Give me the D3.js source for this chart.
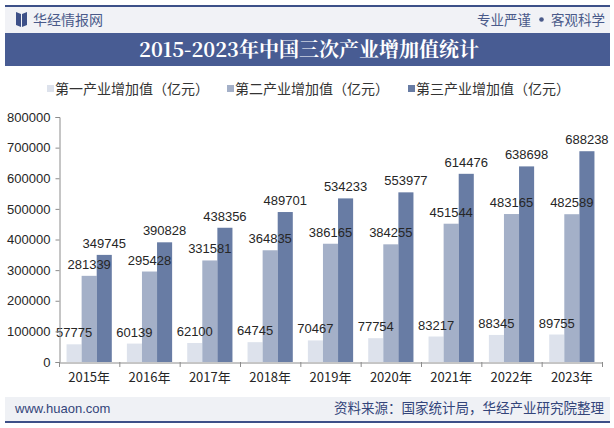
<!DOCTYPE html>
<html><head><meta charset="utf-8">
<script src="https://cdn.jsdelivr.net/npm/d3@7/dist/d3.min.js"></script>
<style>body{margin:0;background:#fff}svg{display:block}</style>
</head><body>
<svg id="c" width="614" height="428"></svg>
<script>
const years = ["2015年","2016年","2017年","2018年","2019年","2020年","2021年","2022年","2023年"];
const primary = [57775,60139,62100,64745,70467,77754,83217,88345,89755];
const secondary = [281339,295428,331581,364835,386165,384255,451544,483165,482589];
const tertiary = [349745,390828,438356,489701,534233,553977,614476,638698,688238];
const seriesNames = ["第一产业增加值（亿元）","第二产业增加值（亿元）","第三产业增加值（亿元）"];
const yTicks = [0,100000,200000,300000,400000,500000,600000,700000,800000];
const colors = ["#dde2ec","#a4b0c8","#687ca4"];

const svg = d3.select("#c");
const font = "'Liberation Sans', Arial, sans-serif";
const cjk = "'Noto Sans CJK SC', 'Liberation Sans', sans-serif";

// header
svg.append("rect").attr("x",5).attr("y",5).attr("width",605).attr("height",2).attr("fill","#3d5088");
svg.append("rect").attr("x",5).attr("y",7).attr("width",605).attr("height",26).attr("fill","#f1f2f6");
svg.append("path").attr("d","M16,12 L21,14 L21,27 L16,25 Z M22,14 L27,12 L27,25 L22,27 Z").attr("fill","#3d5088");
svg.append("text").attr("x",33).attr("y",24.5).attr("font-family",cjk).attr("font-size",14).attr("fill","#4a5a8a").text("华经情报网");
svg.append("text").attr("x",531).attr("y",24.5).attr("text-anchor","end").attr("font-family",cjk).attr("font-size",13.5).attr("fill","#4a5a8a").text("专业严谨");
svg.append("circle").attr("cx",541.5).attr("cy",19.5).attr("r",2.3).attr("fill","#4a5a8a");
svg.append("text").attr("x",605).attr("y",24.5).attr("text-anchor","end").attr("font-family",cjk).attr("font-size",13.5).attr("fill","#4a5a8a").text("客观科学");
svg.append("rect").attr("x",5).attr("y",33).attr("width",605).attr("height",33).attr("fill","#485c93");
svg.append("text").attr("x",309).attr("y",56.5).attr("text-anchor","middle").attr("font-family","'Noto Serif CJK SC','Noto Sans CJK SC',serif").attr("font-weight","bold").attr("font-size",20).attr("fill","#fff").text("2015-2023年中国三次产业增加值统计");

// legend
const legX = [47,227,408];
seriesNames.forEach((n,i)=>{
  svg.append("rect").attr("x",legX[i]).attr("y",85).attr("width",7).attr("height",7).attr("fill",colors[i]);
  svg.append("text").attr("x",legX[i]+8).attr("y",94).attr("font-family",cjk).attr("font-size",14).attr("fill","#333").text(n);
});

// plot
const x0 = d3.scaleBand().domain(years).range([59,602]).paddingInner(0.25).paddingOuter(0.125);
const x1 = d3.scaleBand().domain([0,1,2]).range([0,x0.bandwidth()]);
const y = d3.scaleLinear().domain([0,800000]).range([362,117]);

const data = [primary,secondary,tertiary];
const g = svg.append("g");
years.forEach((yr,i)=>{
  data.forEach((s,k)=>{
    const bx = x0(yr)+x1(k);
    g.append("rect").attr("x",bx).attr("y",y(s[i])).attr("width",x1.bandwidth()).attr("height",362-y(s[i])).attr("fill",colors[k]);
  });
});
years.forEach((yr,i)=>{
  data.forEach((s,k)=>{
    const cx = x0(yr)+x1(k)+x1.bandwidth()/2;
    g.append("text").attr("x",cx).attr("y",y(s[i])-7).attr("text-anchor","middle").attr("font-family",font).attr("font-size",13).attr("fill","#262626").text(s[i]);
  });
});

// y axis
const ya = svg.append("g").attr("transform","translate(59.5,0)")
  .call(d3.axisLeft(y).tickValues(yTicks).tickSize(4).tickPadding(5).tickFormat(d=>String(d)));
ya.select(".domain").attr("stroke","#8c8c8c");
ya.selectAll(".tick line").attr("stroke","#8c8c8c");
ya.selectAll("text").attr("font-family",font).attr("font-size",13).attr("fill","#262626");

// x axis
const xa = svg.append("g").attr("transform","translate(0,362.5)")
  .call(d3.axisBottom(x0).tickSize(0).tickPadding(10));
xa.select(".domain").attr("stroke","#8c8c8c");
xa.selectAll("text").attr("font-family",cjk).attr("font-size",13).attr("fill","#262626");
years.concat([null]).forEach((d,i)=>{
  const bx = 59.5 + i*x0.step();
  svg.append("line").attr("x1",bx).attr("x2",bx).attr("y1",362).attr("y2",367).attr("stroke","#8c8c8c");
});

// footer
svg.append("rect").attr("x",5).attr("y",397).attr("width",605).attr("height",24).attr("fill","#eff1f5");
svg.append("rect").attr("x",5).attr("y",421).attr("width",605).attr("height",2).attr("fill","#3d5088");
svg.append("text").attr("x",15).attr("y",413).attr("font-family",font).attr("font-size",13).attr("fill","#33457a").text("www.huaon.com");
svg.append("text").attr("x",604).attr("y",413).attr("text-anchor","end").attr("font-family",cjk).attr("font-size",13.5).attr("fill","#33457a").text("资料来源：国家统计局，华经产业研究院整理");
</script>
</body></html>
